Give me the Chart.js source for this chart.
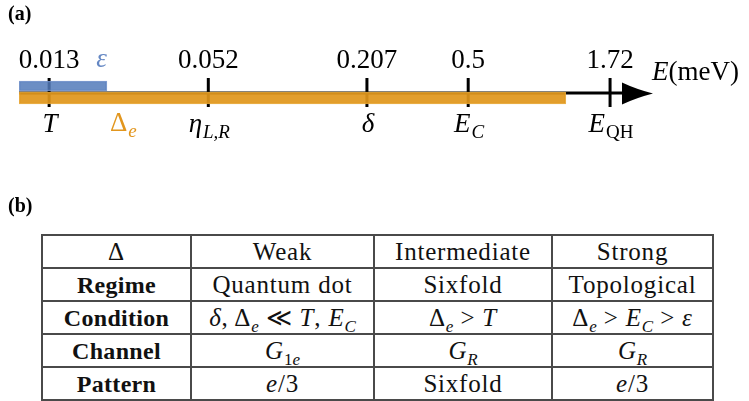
<!DOCTYPE html>
<html><head><meta charset="utf-8">
<script src="https://cdn.jsdelivr.net/npm/chart.js@4.4.1/dist/chart.umd.min.js"></script>
<style>
html,body{margin:0;padding:0;background:#fff;width:749px;height:401px;overflow:hidden;}
#wrap{position:relative;width:749px;height:401px;}
#c{position:absolute;left:0;top:0;}
.panel{position:absolute;left:8px;font-family:'Liberation Serif',serif;font-weight:bold;font-size:20px;line-height:20px;}
table{position:absolute;left:41px;top:234px;border-collapse:collapse;table-layout:fixed;font-family:'Liberation Serif',serif;font-size:25px;color:#111;}
td{border:2px solid #4a4a4a;height:31px;padding:0;text-align:center;vertical-align:middle;line-height:26px;white-space:nowrap;letter-spacing:0.8px;}
td.h{font-weight:bold;font-size:24px;letter-spacing:0.3px;}
i{font-style:italic;}
.s{font-size:17px;position:relative;top:6px;line-height:0;letter-spacing:0;}
</style></head>
<body><div id="wrap">
<canvas id="c" width="749" height="190"></canvas>
<div class="panel" style="top:3px">(a)</div>
<div class="panel" style="top:195px">(b)</div>
<table id="tbl"></table>
</div>
<script>
// ---- data (panel a) ----
const energies = [0.013, 0.052, 0.207, 0.5, 1.72];
const energyValueLabels = ['0.013', '0.052', '0.207', '0.5', '1.72'];
const energySymbols = ['T', 'η_L,R', 'δ', 'E_C', 'E_QH'];
const epsilonRange = [0.01, 0.0215];
const deltaERange = [0.01, 1.17];
const axisRange = [0.01, 2.5];

// ---- data (panel b) ----
const tableColumns = ['Δ', 'Weak', 'Intermediate', 'Strong'];
const tableRowHeads = ['Regime', 'Condition', 'Channel', 'Pattern'];
const tableRegime = ['Quantum dot', 'Sixfold', 'Topological'];
const tableCondition = ['<i>δ</i>, Δ<span class="s"><i>e</i></span> ≪ <i>T</i>, <i>E</i><span class="s"><i>C</i></span>',
                        'Δ<span class="s"><i>e</i></span> &gt; <i>T</i>',
                        'Δ<span class="s"><i>e</i></span> &gt; <i>E</i><span class="s"><i>C</i></span> &gt; <i>ε</i>'];
const tableChannel = ['<i>G</i><span class="s">1<i>e</i></span>', '<i>G</i><span class="s"><i>R</i></span>', '<i>G</i><span class="s"><i>R</i></span>'];
const tablePattern = ['<i>e</i>/3', 'Sixfold', '<i>e</i>/3'];

(function(){
  const t = document.getElementById('tbl');
  const widths = [149, 183, 178, 161];
  let html = '<colgroup>' + widths.map(w => '<col style="width:' + w + 'px">').join('') + '</colgroup>';
  html += '<tr>' + tableColumns.map(c => '<td>' + c + '</td>').join('') + '</tr>';
  const rows = [tableRegime, tableCondition, tableChannel, tablePattern];
  rows.forEach((r, i) => {
    html += '<tr><td class="h">' + tableRowHeads[i] + '</td>' + r.map(c => '<td>' + c + '</td>').join('') + '</tr>';
  });
  t.innerHTML = html;
})();

const BLUE = 'rgba(82,122,186,0.85)';
const ORANGE = 'rgba(223,150,27,0.92)';
const SERIF = "'Liberation Serif', serif";

function drawMath(ctx, parts, x, y, align) {
  const fs = p => (p.sub ? 19 : 27);
  const font = p => (p.it ? 'italic ' : '') + fs(p) + 'px ' + SERIF;
  let w = 0;
  parts.forEach(p => { ctx.font = font(p); p.w = ctx.measureText(p.t).width; w += p.w + (p.sub ? 1 : 0); });
  let cx = align === 'center' ? x - w / 2 : (align === 'right' ? x - w : x);
  ctx.textAlign = 'left';
  ctx.textBaseline = 'alphabetic';
  parts.forEach(p => {
    ctx.font = font(p);
    ctx.fillStyle = p.color || '#000';
    if (p.sub) cx += 1;
    ctx.fillText(p.t, cx, y + (p.sub ? 6 : 0));
    cx += p.w;
  });
}

function symbolParts(s) {
  const [main, sub] = s.split('_');
  const parts = [{t: main, it: main !== 'Δ'}];
  if (sub) parts.push({t: sub, it: sub !== 'QH', sub: true});
  return parts;
}

const decor = {
  id: 'decor',
  beforeDatasetsDraw(chart) {
    const {ctx, scales: {x, y}} = chart;
    const cy = y.getPixelForValue(15);
    const x0 = x.getPixelForValue(axisRange[0]);
    const x1 = x.getPixelForValue(axisRange[1]);
    ctx.save();
    ctx.strokeStyle = '#000';
    ctx.lineWidth = 3;
    ctx.beginPath(); ctx.moveTo(x0, cy); ctx.lineTo(x1 - 20, cy); ctx.stroke();
    ctx.restore();
  },
  afterDatasetsDraw(chart) {
    const {ctx, scales: {x, y}} = chart;
    const cy = y.getPixelForValue(15.5);
    const tip = x.getPixelForValue(axisRange[1]);
    const L = 31, H = 11;
    ctx.save();
    ctx.fillStyle = '#000';
    ctx.beginPath();
    ctx.moveTo(tip, cy);
    ctx.quadraticCurveTo(tip - L * 0.55, cy - H * 0.4, tip - L, cy - H);
    ctx.lineTo(tip - L, cy + H);
    ctx.quadraticCurveTo(tip - L * 0.55, cy + H * 0.4, tip, cy);
    ctx.closePath();
    ctx.fill();
    ctx.restore();
  },
  afterDraw(chart) {
    const {ctx, scales: {x}} = chart;
    ctx.save();
    energies.forEach((v, i) => {
      const px = x.getPixelForValue(v);
      ctx.font = '27px ' + SERIF;
      ctx.fillStyle = '#000';
      ctx.textAlign = 'center';
      ctx.textBaseline = 'alphabetic';
      ctx.fillText(energyValueLabels[i], px, 68);
      drawMath(ctx, symbolParts(energySymbols[i]), px + 1, 132, 'center');
    });
    const epx = x.getPixelForValue(epsilonRange[1]);
    drawMath(ctx, [{t: 'ε', it: true, color: 'rgb(100,135,195)'}], epx, 67, 'right');
    drawMath(ctx, [{t: 'Δ', color: 'rgb(226,150,30)'}, {t: 'e', it: true, sub: true, color: 'rgb(226,150,30)'}], epx + 3, 131, 'left');
    const tip = x.getPixelForValue(axisRange[1]);
    drawMath(ctx, [{t: 'E', it: true}, {t: '(meV)'}], tip - 1, 80, 'left');
    ctx.restore();
  }
};

new Chart(document.getElementById('c'), {
  data: {
    datasets: [
      {type: 'bar', label: 'ε', data: [{x: epsilonRange, y: 8}], backgroundColor: BLUE,
       borderColor: 'rgba(120,150,205,0.9)', borderWidth: 1, borderSkipped: false, barThickness: 10, grouped: false},
      {type: 'bar', label: 'Δe', data: [{x: deltaERange, y: 20}], backgroundColor: ORANGE,
       borderColor: 'rgba(232,170,60,0.9)', borderWidth: 1, borderSkipped: false, barThickness: 12, grouped: false},
      {type: 'scatter', label: 'ticks', data: energies.map(v => ({x: v, y: 14.5})), pointStyle: 'line',
       rotation: 90, radius: 14.5, borderWidth: 3, borderColor: '#000', backgroundColor: '#000', clip: false}
    ]
  },
  options: {
    indexAxis: 'y',
    responsive: false,
    animation: false,
    devicePixelRatio: 1,
    events: [],
    layout: {padding: {left: 19, right: 96, top: 78, bottom: 83}},
    plugins: {legend: {display: false}, tooltip: {enabled: false}},
    scales: {
      x: {type: 'logarithmic', min: axisRange[0], max: axisRange[1], display: false},
      y: {type: 'linear', min: 0, max: 29, reverse: true, offset: false, display: false}
    }
  },
  plugins: [decor]
});
</script>
</body></html>
